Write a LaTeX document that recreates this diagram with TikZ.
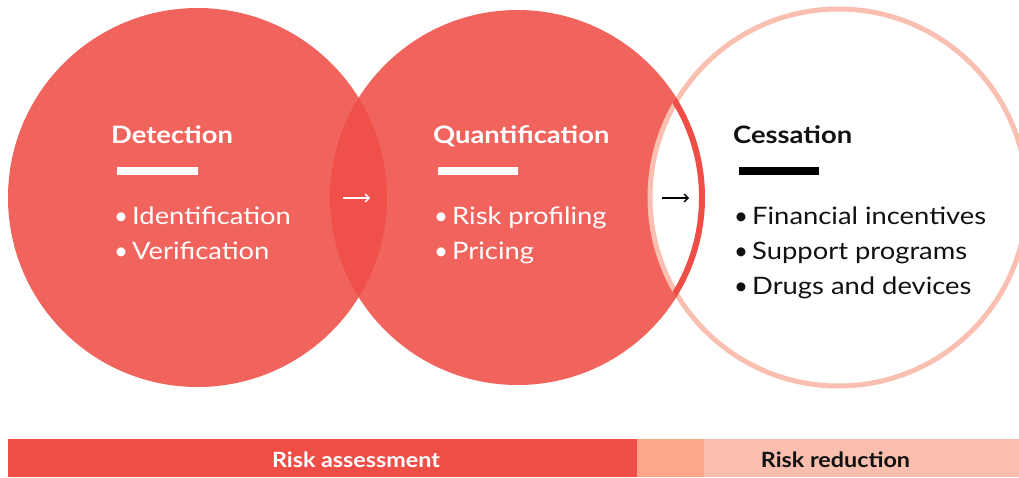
\documentclass[tikz,border=0pt]{standalone}
\usepackage{fontspec}
\setmainfont{Lato}
\newfontfamily\widefont[FakeStretch=1.14]{Lato}
\newfontfamily\barfont[FakeStretch=1.11]{Lato}
\usetikzlibrary{arrows.meta}
\definecolor{cred}{HTML}{EF4E47}
\definecolor{cring}{HTML}{F9BFB0}
\definecolor{csalmon}{HTML}{FCA68A}
\definecolor{clight}{HTML}{FABEAE}
\definecolor{cink}{HTML}{111111}
\begin{document}
\begin{tikzpicture}[x=1pt,y=-1pt,
  head/.style={anchor=base west, inner sep=0pt, font=\widefont\fontsize{24}{30}\selectfont\bfseries},
  item/.style={anchor=base west, inner sep=0pt, font=\widefont\fontsize{24}{30}\selectfont},
  bul/.style={anchor=base west, inner sep=0pt, font=\fontsize{24}{30}\selectfont},
  barlabel/.style={anchor=base, inner sep=0pt, font=\barfont\fontsize{21}{24}\selectfont\bfseries},
  disc/.style={cred, opacity=0.88},
  arr/.style={line width=1.4pt, -{Straight Barb[length=4pt,width=8pt]}}]
\useasboundingbox (0,0) rectangle (1019,477);
\clip (0,0) rectangle (1019,477);
% circles
\fill[disc] (197.5,197.5) circle[radius=189.5pt];
\fill[disc] (517.5,197.5) circle[radius=187.5pt];
\draw[cring, fill=white, line width=5pt] (838.5,197.5) circle[radius=188.5pt];
\begin{scope}
  \clip (838.5,197.5) circle[radius=191pt];
  \draw[cred, line width=6pt] (517.5,197.5) circle[radius=184.5pt];
\end{scope}
% rules under headings
\fill[white] (117,167) rectangle (198,175);
\fill[white] (438,167) rectangle (518,175);
\fill[black] (739,167) rectangle (819,175);
% circle 1
\node[head, white] (det) at (111,143) {Detection};
\node[bul, white] (d1b) at (114,224) {•};
\node[item, white] (d1) at (132,224) {Identification};
\node[bul, white] (d2b) at (114,259) {•};
\node[item, white] (d2) at (132,259) {Verification};
% circle 2
\node[head, white] (qua) at (433,143) {Quantification};
\node[bul, white] (q1b) at (434,224) {•};
\node[item, white] (q1) at (452,224) {Risk profiling};
\node[bul, white] (q2b) at (434,259) {•};
\node[item, white] (q2) at (452,259) {Pricing};
% circle 3
\node[head, cink] (ces) at (733,143) {Cessation};
\node[bul, cink] (c1b) at (734,224) {•};
\node[item, cink] (c1) at (752,224) {Financial incentives};
\node[bul, cink] (c2b) at (734,259) {•};
\node[item, cink] (c2) at (752,259) {Support programs};
\node[bul, cink] (c3b) at (734,294) {•};
\node[item, cink] (c3) at (752,294) {Drugs and devices};
% arrows
\coordinate (a1s) at (343,198);
\coordinate (a1e) at (370,198);
\coordinate (a2s) at (662,198);
\coordinate (a2e) at (689,198);
\draw[arr, white] (a1s) -- (a1e);
\draw[arr, black] (a2s) -- (a2e);
% bottom bar
\fill[cred] (8,439) rectangle (637,477);
\fill[csalmon] (637,439) rectangle (704,477);
\fill[clight] (704,439) rectangle (1019,477);
\node[barlabel, white] (ra) at (356,467) {Risk assessment};
\node[barlabel, cink] (rr) at (835.5,467) {Risk reduction};
\end{tikzpicture}
\end{document}
